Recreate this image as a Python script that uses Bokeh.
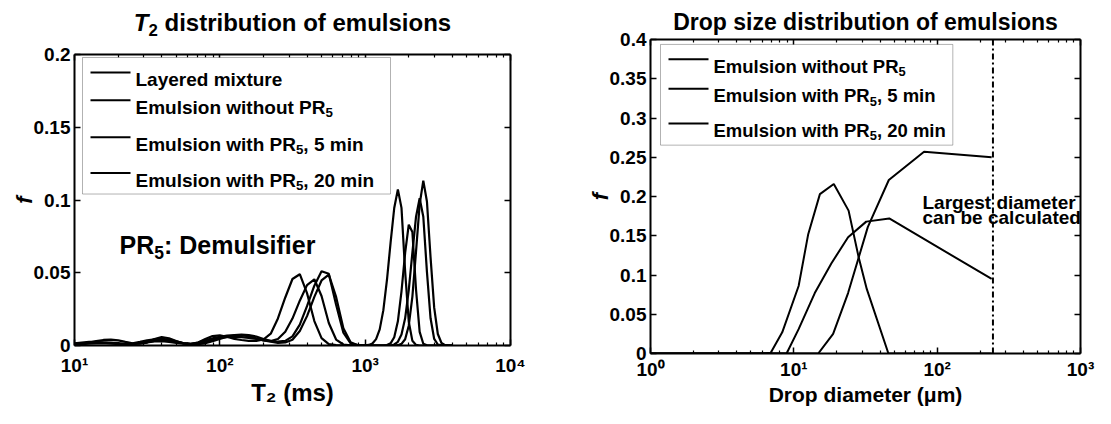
from math import pi, log10
from bokeh.plotting import figure
from bokeh.layouts import row, column
from bokeh.models import (Label, BoxAnnotation, Arrow, Span, LinearAxis, LogAxis,
                          FixedTicker, CustomJSTickFormatter, Range1d)
from bokeh.embed import file_html
from bokeh.resources import INLINE

FONT = "Liberation Sans"

# ---------------- left panel data: T2 distributions ----------------
t2_ms = [10.0, 11.2, 12.6, 14.1, 15.8, 17.8, 20.0, 22.4, 25.1, 28.2,
         31.6, 35.5, 39.8, 44.7, 50.1, 56.2, 63.1, 70.8, 79.4, 89.1,
         100, 112, 126, 141, 158, 178, 200, 224, 251, 282,
         316, 355, 398, 447, 501, 562, 631, 708, 794, 891,
         1000, 1059, 1122, 1189, 1259, 1334, 1413, 1496, 1585, 1679,
         1778, 1884, 1995, 2113, 2239, 2371, 2512, 2661, 2818, 2985,
         3162, 3350, 3548, 3758, 3981]

f_layered = [0.0010, 0.0015, 0.0020, 0.0030, 0.0038, 0.0040, 0.0035, 0.0025, 0.0015, 0.0012,
             0.0020, 0.0045, 0.0058, 0.0050, 0.0030, 0.0015, 0.0010, 0.0020, 0.0045, 0.0065,
             0.0070, 0.0060, 0.0045, 0.0038, 0.0032, 0.0032, 0.0042, 0.0081, 0.0186, 0.0330,
             0.0457, 0.0490, 0.0360, 0.0168, 0.0051, 0.0010, 0.0002, 0.0, 0.0, 0.0,
             0.0001, 0.0004, 0.0014, 0.0044, 0.0111, 0.0243, 0.0452, 0.0707, 0.0945, 0.1073,
             0.0946, 0.0508, 0.0163, 0.0032, 0.0004, 0.0, 0.0, 0.0, 0.0, 0.0,
             0.0, 0.0, 0.0, 0.0, 0.0]

f_no_pr5 = [0.0015, 0.0020, 0.0025, 0.0025, 0.0020, 0.0015, 0.0010, 0.0010, 0.0015, 0.0025,
            0.0035, 0.0042, 0.0045, 0.0040, 0.0028, 0.0015, 0.0010, 0.0010, 0.0015, 0.0030,
            0.0045, 0.0060, 0.0068, 0.0070, 0.0065, 0.0050, 0.0035, 0.0030, 0.0045, 0.0095,
            0.0185, 0.0308, 0.0415, 0.0455, 0.0340, 0.0155, 0.0041, 0.0007, 0.0001, 0.0,
            0.0, 0.0, 0.0, 0.0, 0.0, 0.0, 0.0003, 0.0015, 0.0057, 0.0166,
            0.0372, 0.0636, 0.0830, 0.0780, 0.0383, 0.0094, 0.0012, 0.0001, 0.0, 0.0,
            0.0, 0.0, 0.0, 0.0, 0.0]

f_pr5_5min = [0.0008, 0.0010, 0.0012, 0.0015, 0.0015, 0.0015, 0.0012, 0.0010, 0.0010, 0.0015,
              0.0022, 0.0028, 0.0030, 0.0025, 0.0018, 0.0012, 0.0012, 0.0020, 0.0035, 0.0050,
              0.0060, 0.0068, 0.0072, 0.0075, 0.0072, 0.0062, 0.0045, 0.0032, 0.0026, 0.0032,
              0.0063, 0.0143, 0.0270, 0.0411, 0.0510, 0.0493, 0.0280, 0.0088, 0.0015, 0.0003,
              0.0, 0.0, 0.0, 0.0, 0.0, 0.0, 0.0, 0.0, 0.0, 0.0002,
              0.0011, 0.0043, 0.0136, 0.0336, 0.0647, 0.0970, 0.1133, 0.0990, 0.0606, 0.0260,
              0.0079, 0.0017, 0.0002, 0.0, 0.0]

f_pr5_20min = [0.0012, 0.0015, 0.0018, 0.0020, 0.0022, 0.0020, 0.0016, 0.0012, 0.0012, 0.0018,
               0.0025, 0.0032, 0.0035, 0.0032, 0.0025, 0.0016, 0.0012, 0.0015, 0.0025, 0.0040,
               0.0052, 0.0058, 0.0060, 0.0058, 0.0052, 0.0045, 0.0035, 0.0026, 0.0018, 0.0021,
               0.0040, 0.0100, 0.0202, 0.0334, 0.0447, 0.0487, 0.0334, 0.0119, 0.0022, 0.0002,
               0.0, 0.0, 0.0, 0.0, 0.0, 0.0, 0.0, 0.0, 0.0007, 0.0025,
               0.0075, 0.0187, 0.0381, 0.0638, 0.0885, 0.1012, 0.0885, 0.0506, 0.0187, 0.0045,
               0.0007, 0.0001, 0.0, 0.0, 0.0]

t2_ticks = [10, 100, 1000, 10000]
t2_tick_labels = ["10¹", "10²", "10³", "10⁴"]
f1_ticks = [0, 0.05, 0.1, 0.15, 0.2]
f1_tick_labels = ["0", "0.05", "0.1", "0.15", "0.2"]

# ---------------- right panel data: drop size distributions ----------------
d_no_pr5 = [1.0, 6.0, 6.9, 8.3, 10.8, 12.6, 15.2, 19.0, 24.1, 28.3, 32.3, 45.7, 240]
f_d_no_pr5 = [0, 0, 0.001, 0.027, 0.086, 0.152, 0.203, 0.216, 0.182, 0.123, 0.082, 0, 0]

d_pr5_5min = [1.0, 14.8, 18.8, 23.9, 32.8, 46.0, 81.0, 240]
f_d_pr5_5min = [0, 0, 0.025, 0.077, 0.161, 0.221, 0.257, 0.250]

d_pr5_20min = [1.0, 8.9, 10.8, 14.0, 18.3, 23.9, 32.0, 46.3, 240]
f_d_pr5_20min = [0, 0, 0.031, 0.077, 0.115, 0.148, 0.168, 0.172, 0.095]

largest_diameter = 245
d_ticks = [1, 10, 100, 1000]
d_tick_labels = ["10⁰", "10¹", "10²", "10³"]
f2_ticks = [0, 0.05, 0.1, 0.15, 0.2, 0.25, 0.3, 0.35, 0.4]
f2_tick_labels = ["0", "0.05", "0.1", "0.15", "0.2", "0.25", "0.3", "0.35", "0.4"]

legend_left = [
    [("Layered mixture", "n")],
    [("Emulsion without PR", "n"), ("5", "sub")],
    [("Emulsion with PR", "n"), ("5", "sub"), (", 5 min", "n")],
    [("Emulsion with PR", "n"), ("5", "sub"), (", 20 min", "n")],
]
legend_right = legend_left[1:]

# ---------------- helpers (layout only) ----------------
W = {' ': 278, ',': 278, ':': 333, '(': 333, ')': 333, '.': 278,
     'A': 722, 'B': 722, 'C': 722, 'D': 722, 'E': 667, 'F': 611, 'G': 778, 'H': 722,
     'I': 278, 'L': 611, 'M': 833, 'P': 667, 'R': 722, 'T': 611,
     'a': 556, 'b': 611, 'c': 556, 'd': 611, 'e': 556, 'f': 333, 'g': 611, 'h': 611,
     'i': 278, 'j': 278, 'k': 556, 'l': 278, 'm': 889, 'n': 611, 'o': 611, 'p': 611,
     'q': 611, 'r': 389, 's': 556, 't': 333, 'u': 611, 'v': 556, 'w': 778, 'x': 556,
     'y': 556, 'z': 500, 'μ': 611}


def tw(s, size):
    return sum(W.get(c, 556) for c in s) * size / 1000.0


def x_conv(fl, fw, lx0, lx1):
    return lambda px: 10 ** (lx0 + (px - fl) / fw * (lx1 - lx0))


def y_conv(ft, fh, y0, y1):
    return lambda py: y0 + (ft + fh - py) / fh * (y1 - y0)


def add_rich(p, conv, x0, yb, parts, size, align="left"):
    X, Y = conv
    sub = round(size * 0.7, 1)
    widths = [tw(t, size if k in ("n", "i") else sub) for t, k in parts]
    total = sum(widths)
    x = x0 - total / 2 if align == "center" else x0
    for (t, k), w in zip(parts, widths):
        if k == "sub":
            s, dy = sub, 0.3 * size
        else:
            s, dy = size, 0
        lead = len(t) - len(t.lstrip(" "))
        xs = x + tw(" " * lead, s)
        p.add_layout(Label(x=X(xs), y=Y(yb + dy), text=t.strip(" "), text_font=FONT,
                           text_font_style="bold italic" if k == "i" else "bold",
                           text_font_size=f"{s}px", text_align="left",
                           text_baseline="alphabetic", text_color="black"))
        x += w
    return total


def text_fig(w, h, x_range):
    # a title strip; its frame lines up horizontally with the panel below it
    f = figure(width=w, height=h, x_axis_type="log", x_range=x_range, y_range=Range1d(0, h),
               min_border_left=0, min_border_right=0, min_border_top=0, min_border_bottom=0,
               x_axis_location=None, y_axis_location=None,
               output_backend="svg", toolbar_location=None, title=None)
    f.grid.visible = False
    f.outline_line_color = None
    f.background_fill_color = "white"
    f.border_fill_color = "white"
    return f


def silent(ax):
    ax.formatter = CustomJSTickFormatter(code="return ''")
    ax.major_label_text_font_size = "1px"
    ax.major_label_standoff = 0


def make_panel(w, h, bl, br, bt, bb, x_range, ylim, xticks, xlabels, yticks, ylabels,
               xtitle, xtitle_size, tick_standoff, title=None):
    p = figure(width=w, height=h, x_axis_type="log", x_range=x_range, y_range=Range1d(*ylim),
               min_border_left=bl, min_border_right=br, min_border_top=bt, min_border_bottom=bb,
               output_backend="svg", toolbar_location=None, title=title)
    if title is not None:
        p.title.align = "center"
        p.title.text_font = FONT
        p.title.text_font_style = "bold"
        p.title.text_font_size = "23px"
        p.title.text_color = "black"
        p.title.standoff = 10
    p.xgrid.visible = False
    p.ygrid.visible = False
    p.outline_line_color = None
    p.background_fill_color = "white"
    p.border_fill_color = "white"
    minor = [m * t for t in xticks[:-1] for m in range(2, 10)]
    top = LogAxis(ticker=FixedTicker(ticks=xticks, minor_ticks=minor))
    right = LinearAxis(ticker=FixedTicker(ticks=yticks, minor_ticks=[]))
    p.add_layout(top, "above")
    p.add_layout(right, "right")
    bottom = p.below[0]
    left = p.left[0]
    bottom.ticker = FixedTicker(ticks=xticks, minor_ticks=minor)
    left.ticker = FixedTicker(ticks=yticks, minor_ticks=[])
    for ax in (top, right, bottom, left):
        ax.axis_line_width = 2
        ax.axis_line_color = "black"
        ax.major_tick_in = 6
        ax.major_tick_out = 0
        ax.minor_tick_in = 3
        ax.minor_tick_out = 0
        ax.major_tick_line_width = 1.5
        ax.minor_tick_line_width = 1.2
        ax.major_tick_line_color = "black"
        ax.minor_tick_line_color = "black"
    silent(top)
    silent(right)
    for ax in (bottom, left):
        ax.major_label_text_font = FONT
        ax.major_label_text_font_style = "bold"
        ax.major_label_text_font_size = "19px"
        ax.major_label_text_color = "black"
        ax.axis_label_text_font = FONT
        ax.axis_label_text_color = "black"
    bottom.major_label_standoff = tick_standoff
    bottom.major_label_overrides = dict(zip(xticks, xlabels))
    bottom.axis_label = xtitle
    bottom.axis_label_text_font_style = "bold"
    bottom.axis_label_text_font_size = f"{xtitle_size}px"
    bottom.axis_label_standoff = 0
    left.major_label_standoff = 4
    left.major_label_overrides = dict(zip(yticks, ylabels))
    left.axis_label = "f"
    left.axis_label_text_font_style = "bold italic"
    left.axis_label_text_font_size = "22px"
    left.axis_label_standoff = -6
    return p


# ---------------- left panel ----------------
FL1, FT1, FW1, FH1 = 82, 62, 436, 292
W1 = 560
xr1 = Range1d(10, 10000)
X1 = x_conv(FL1, FW1, 1, 4)
t1 = text_fig(W1, 42, xr1)                                                     # page y 8..50
p1 = make_panel(W1, 366, 74, 50, 12, 62, xr1, (0, 0.2), t2_ticks, t2_tick_labels,
                f1_ticks, f1_tick_labels, "T₂ (ms)", 24, 9)                    # page y 50..416

for ys in (f_layered, f_no_pr5, f_pr5_5min, f_pr5_20min):
    p1.line(t2_ms, ys, line_color="black", line_width=2.2)

add_rich(t1, (X1, lambda py: 8 + 42 - py), 300, 30,
         [("T", "i"), ("2", "sub"), (" distribution of emulsions", "n")], 24, align="center")

c1 = (X1, y_conv(FT1, FH1, 0, 0.2))
add_rich(p1, c1, 127, 253, [("PR", "n"), ("5", "sub"), (": Demulsifier", "n")], 25)

LEG1 = 19
p1.add_layout(BoxAnnotation(left=X1(90), right=X1(398), top=c1[1](65), bottom=c1[1](202),
                            fill_color="white", fill_alpha=1.0, line_color="black", line_width=1))
for parts, yc in zip(legend_left, [80, 108, 145, 181]):
    p1.add_layout(Arrow(end=None, x_start=X1(98), y_start=c1[1](yc), x_end=X1(138),
                        y_end=c1[1](yc), line_width=2, line_color="black"))
    add_rich(p1, c1, 143, yc + 7, parts, LEG1)

# ---------------- right panel ----------------
FL2, FT2, FW2, FH2 = 658, 47, 430, 318
W2 = 535
xr2 = Range1d(1, 1000)
X2 = x_conv(FL2, FW2, 0, 3)
p2 = make_panel(W2, 408, FL2 - 568, 1103 - FL2 - FW2, FT2 - 8, 51, xr2, (0, 0.4),
                d_ticks, d_tick_labels, f2_ticks, f2_tick_labels,
                "Drop diameter (μm)", 21, 5,
                title="Drop size distribution of emulsions")                  # page y 8..416

for xs, ys in ((d_no_pr5, f_d_no_pr5), (d_pr5_5min, f_d_pr5_5min), (d_pr5_20min, f_d_pr5_20min)):
    p2.line(xs, ys, line_color="black", line_width=2)

p2.add_layout(Span(location=largest_diameter, dimension="height", line_color="black",
                   line_width=2, line_dash="6 3 2 3"))

c2 = (X2, y_conv(FT2, FH2, 0, 0.4))
add_rich(p2, c2, 930, 212, [("Largest diameter", "n")], 19)
add_rich(p2, c2, 930, 227, [("can be calculated", "n")], 19)

LEG2 = 18.5
lw = max(sum(tw(t, LEG2 if k == "n" else round(LEG2 * 0.7, 1)) for t, k in parts)
         for parts in legend_right)
p2.add_layout(BoxAnnotation(left=X2(668), right=X2(721 + lw + 7), top=c2[1](52), bottom=c2[1](154),
                            fill_color="white", fill_alpha=1.0, line_color="black", line_width=1))
for parts, yc in zip(legend_right, [67, 97, 132]):
    p2.add_layout(Arrow(end=None, x_start=X2(676), y_start=c2[1](yc), x_end=X2(716),
                        y_end=c2[1](yc), line_width=2, line_color="black"))
    add_rich(p2, c2, 721, yc + 7, parts, LEG2)

layout = row(column(t1, p1), column(p2))
open("out.html", "w").write(file_html(layout, INLINE))
